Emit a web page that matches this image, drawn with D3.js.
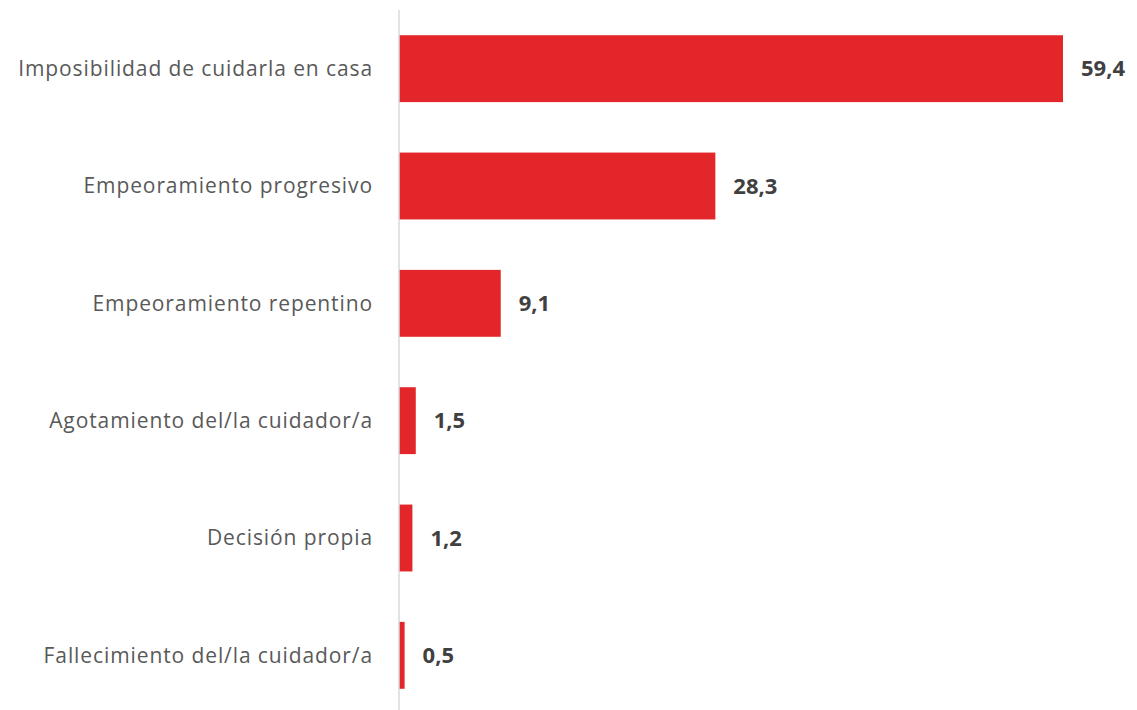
<!DOCTYPE html>
<html>
<head>
<meta charset="utf-8">
<script src="https://cdn.jsdelivr.net/npm/d3@7"></script>
<style>
  body { margin: 0; background: #fff; }
  svg { display: block; }
</style>
</head>
<body>
<div id="chart"></div>
<script>
// categories and values, top to bottom
const categories = [
  "Imposibilidad de cuidarla en casa",
  "Empeoramiento progresivo",
  "Empeoramiento repentino",
  "Agotamiento del/la cuidador/a",
  "Decisión propia",
  "Fallecimiento del/la cuidador/a"
];
const values = [59.4, 28.3, 9.1, 1.5, 1.2, 0.5];

const width = 1137, height = 710;
const x0 = 399;

const svg = d3.select('#chart').append('svg')
  .attr('width', width)
  .attr('height', height);

// 663px covers 59.4 in the original
const x = d3.scaleLinear()
  .domain([0, 59.4])
  .range([x0, 1063]);

const y = d3.scaleBand()
  .domain(categories)
  .range([10, 714])
  .paddingInner(0.43)
  .paddingOuter(0.215);

// bars
svg.selectAll('rect.bar')
  .data(values)
  .enter()
  .append('rect')
  .attr('class', 'bar')
  .attr('x', x(0))
  .attr('y', (d, i) => y(categories[i]))
  .attr('width', d => x(d) - x(0))
  .attr('height', y.bandwidth())
  .attr('fill', '#e3262a');

// vertical axis line
svg.append('line')
  .attr('x1', x0).attr('x2', x0)
  .attr('y1', 10).attr('y2', height)
  .attr('stroke', '#d9d9d9')
  .attr('stroke-width', 1.5);

// category labels
svg.selectAll('text.cat')
  .data(categories)
  .enter()
  .append('text')
  .attr('class', 'cat')
  .attr('x', 373)
  .attr('y', d => y(d) + y.bandwidth() / 2)
  .attr('dy', '0.35em')
  .attr('text-anchor', 'end')
  .attr('fill', '#595959')
  .style('font-family', '"Open Sans", sans-serif')
  .style('font-size', '21px')
  .style('letter-spacing', '0.9px')
  .text(d => d);

// value labels
const fmt = d3.format('.1f');
svg.selectAll('text.val')
  .data(values)
  .enter()
  .append('text')
  .attr('class', 'val')
  .attr('x', d => x(d) + 18)
  .attr('y', (d, i) => y(categories[i]) + y.bandwidth() / 2)
  .attr('dy', '0.35em')
  .attr('fill', '#404040')
  .style('font-family', '"Open Sans", sans-serif')
  .style('font-weight', 'bold')
  .style('font-size', '22px')
  .text(d => fmt(d).replace('.', ','));
</script>
</body>
</html>
